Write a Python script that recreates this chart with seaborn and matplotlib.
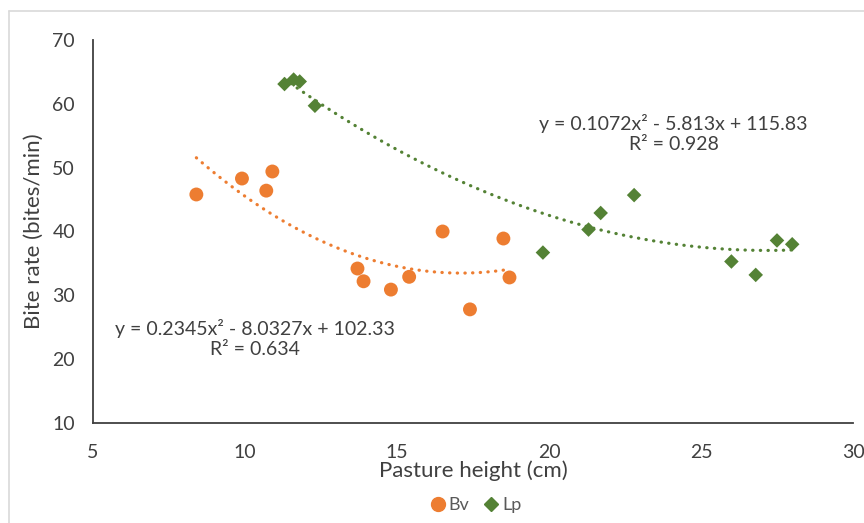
import numpy as np
import pandas as pd
import matplotlib.pyplot as plt
import seaborn as sns
from matplotlib.lines import Line2D

# Values
bv_height = [8.4, 9.9, 10.7, 10.9, 13.7, 13.9, 14.8, 15.4, 16.5, 17.4, 18.5, 18.7]
bv_rate = [45.8, 48.3, 46.4, 49.4, 34.2, 32.2, 30.9, 32.9, 40.0, 27.8, 38.9, 32.8]
lp_height = [11.3, 11.6, 11.8, 12.3, 19.8, 21.3, 21.7, 22.8, 26.0, 26.8, 27.5, 28.0]
lp_rate = [63.1, 63.8, 63.5, 59.7, 36.7, 40.3, 42.9, 45.7, 35.3, 33.2, 38.6, 38.0]

bv_eq = "y = 0.2345x² - 8.0327x + 102.33\nR² = 0.634"
lp_eq = "y = 0.1072x² - 5.813x + 115.83\nR² = 0.928"

df = pd.DataFrame({
    "height": bv_height + lp_height,
    "rate": bv_rate + lp_rate,
    "species": ["Bv"] * len(bv_height) + ["Lp"] * len(lp_height),
})

orange = "#ED7D31"
green = "#548235"
text_col = "#404040"

sns.set_style("white")
plt.rcParams["font.family"] = ["Lato", "DejaVu Sans"]

fig = plt.figure(figsize=(8.64, 5.23), dpi=100)
ax = fig.add_axes([93 / 864, 1 - 423 / 523, 760 / 864, 383 / 523])

# dotted polynomial trendlines (order 2)
dot = dict(linestyle=(0, (0.1, 2.3)), dash_capstyle="round", linewidth=2.3)
sns.regplot(x=bv_height, y=bv_rate, order=2, ci=None, scatter=False, truncate=True,
            color=orange, line_kws=dot, ax=ax)
sns.regplot(x=lp_height, y=lp_rate, order=2, ci=None, scatter=False, truncate=True,
            color=green, line_kws=dot, ax=ax)

sns.scatterplot(data=df[df.species == "Bv"], x="height", y="rate", color=orange,
                marker="o", s=100, edgecolor="none", ax=ax, zorder=3)
sns.scatterplot(data=df[df.species == "Lp"], x="height", y="rate", color=green,
                marker="D", s=55, edgecolor="none", ax=ax, zorder=3)

ax.set_xlim(5, 30)
ax.set_ylim(10, 70)
ax.set_xticks(range(5, 31, 5))
ax.set_yticks(range(10, 71, 10))
ax.tick_params(length=0, labelsize=14, colors=text_col)
ax.tick_params(axis="y", pad=13)
ax.tick_params(axis="x", pad=15)
sns.despine(ax=ax)
for side in ["left", "bottom"]:
    ax.spines[side].set_color("#404040")
    ax.spines[side].set_linewidth(1.3)

ax.set_xlabel("Pasture height (cm)", fontsize=16, color=text_col, labelpad=0)
ax.set_ylabel("Bite rate (bites/min)", fontsize=16, color=text_col, labelpad=6)

ax.text(24.1, 55.4, lp_eq, ha="center", va="center", fontsize=14,
        color=text_col, linespacing=1.2)
ax.text(10.33, 23.3, bv_eq, ha="center", va="center", fontsize=14,
        color=text_col, linespacing=1.2)

handles = [
    Line2D([], [], marker="o", color=orange, linestyle="none", markersize=10),
    Line2D([], [], marker="D", color=green, linestyle="none", markersize=7),
]
fig.legend(handles, ["Bv", "Lp"], loc="center", bbox_to_anchor=(475 / 864, 1 - 505 / 523),
           ncol=2, frameon=False, fontsize=13, handletextpad=0.1, columnspacing=0.7,
           labelcolor="#595959", handlelength=1.0)

# chart border
fig.add_artist(Line2D([9 / 864, 9 / 864], [0, 1 - 11 / 523], color="#D9D9D9", lw=1.2))
fig.add_artist(Line2D([9 / 864, 1], [1 - 11 / 523, 1 - 11 / 523], color="#D9D9D9", lw=1.2))

fig.savefig("out.png", dpi=100)
